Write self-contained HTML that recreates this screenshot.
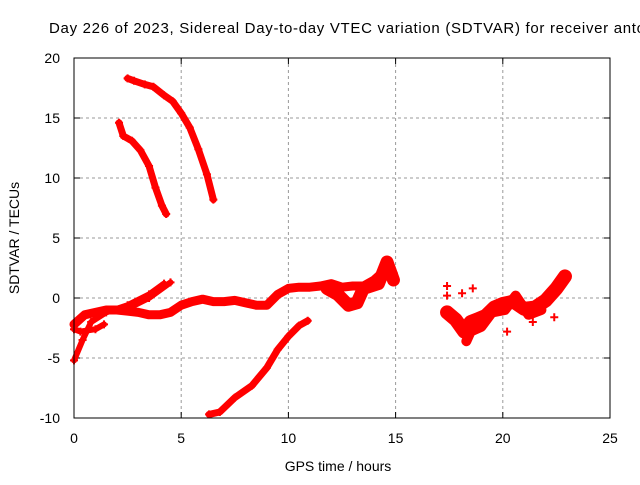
<!DOCTYPE html>
<html><head><meta charset="utf-8"><style>
body{margin:0;background:#fff}
text{font-family:"Liberation Sans",sans-serif;font-size:14px;fill:#000}
</style></head><body>
<svg id="c" width="640" height="480" xmlns="http://www.w3.org/2000/svg">
<text x="49" y="33" textLength="596" lengthAdjust="spacing" style="font-size:15px">Day 226 of 2023, Sidereal Day-to-day VTEC variation (SDTVAR) for receiver anto</text>
<text x="338" y="471" text-anchor="middle">GPS time / hours</text>
<text transform="translate(19,238) rotate(-90)" text-anchor="middle">SDTVAR / TECUs</text>
<g id="grid"></g><g id="marks"></g>
<rect x="74" y="58" width="536" height="360" fill="none" stroke="#000"/>
</svg>
<script>
const xTicks=[0,5,10,15,20,25];
const yTicks=[-10,-5,0,5,10,15,20];
const trackA=[[2.5,18.3],[2.8,18.1],[3.3,17.8],[3.7,17.6],[4.2,16.9],[4.6,16.4],[5.0,15.4],[5.4,14.2],[5.8,12.4],[6.2,10.3],[6.5,8.2]];
const trackB=[[2.1,14.6],[2.3,13.5],[2.7,13.1],[3.1,12.3],[3.5,11.0],[3.8,9.2],[4.1,7.7],[4.3,7.0]];
const trackC=[[6.3,-9.7],[6.8,-9.5],[7.5,-8.3],[8.3,-7.3],[9.0,-5.8],[9.5,-4.3],[10.0,-3.2],[10.5,-2.3],[10.9,-1.9]];
const trackMain=[[0,-2.2],[0.5,-1.4],[1,-1.2],[1.5,-1.0],[2,-1.0],[2.5,-1.1],[3,-1.2],[3.5,-1.4],[4,-1.4],[4.5,-1.2],[5,-0.6],[5.5,-0.3],[6,-0.1],[6.5,-0.3],[7,-0.3],[7.5,-0.2],[8,-0.4],[8.5,-0.6],[9,-0.6],[9.5,0.3],[10,0.8],[10.5,0.9],[11,0.9],[11.5,1.0],[12,1.2],[12.5,0.9],[13,1.0],[13.5,1.0],[14,1.5],[14.5,2.3],[14.9,2.0]];
const trackUp1=[[0,-5.2],[0.4,-3.5],[0.8,-2.0],[1.5,-1.2],[2.5,-0.6],[3.5,0.3],[4.2,1.2]];
const trackUp2=[[2.6,-0.8],[3.5,0.0],[4.5,1.3]];
const trackDip=[[0.0,-2.6],[0.3,-2.8],[1.0,-2.6],[1.4,-2.2]];
const trackNoise=[[11.8,0.8],[12.3,0.3],[12.8,-0.6],[13.2,-0.4],[13.5,0.8],[14.2,1.2],[14.6,3.0],[14.9,1.5]];
const trackRight=[[17.4,-1.2],[17.8,-1.8],[18.2,-2.8],[18.5,-2.0],[18.8,-1.8],[19.2,-1.5],[19.6,-0.8],[20,-0.5],[20.5,-0.3],[21,-0.9],[21.5,-0.8],[22,-0.2],[22.5,0.8],[22.9,1.8]];
const trackRight2=[[18.3,-3.6],[18.5,-2.8],[19.0,-2.4],[19.5,-1.2],[20.1,-1.0],[20.6,0.2],[21.2,-1.4],[21.8,-1.0]];
const scatter=[[17.4,1.0],[17.4,0.2],[18.1,0.4],[18.6,0.8],[17.6,-1.6],[21.4,-2.0],[20.2,-2.8],[22.4,-1.6]];
const X=h=>74+h*536/25, Y=v=>298-v*12;
const ns="http://www.w3.org/2000/svg";
const grid=document.getElementById('grid'), marks=document.getElementById('marks'), svg=document.getElementById('c');
function mk(tag,attrs,parent){const e=document.createElementNS(ns,tag);for(const k in attrs)e.setAttribute(k,attrs[k]);parent.appendChild(e);return e;}
xTicks.forEach(t=>{
 if(t>0&&t<25){const g=mk('line',{x1:X(t),x2:X(t),y1:58,y2:418,stroke:'#999','stroke-dasharray':'3,3'},grid);
 
 }
 mk('line',{x1:X(t),x2:X(t),y1:418,y2:412,stroke:'#000'},grid);
 mk('line',{x1:X(t),x2:X(t),y1:58,y2:64,stroke:'#000'},grid);
 const l=mk('text',{x:X(t),y:443,'text-anchor':'middle'},svg);l.textContent=t;
 
 
});
yTicks.forEach(t=>{
 if(t>-10&&t<20){const g=mk('line',{x1:74,x2:610,y1:Y(t),y2:Y(t),stroke:'#999','stroke-dasharray':'3,3'},grid);
 
 }
 mk('line',{x1:74,x2:80,y1:Y(t),y2:Y(t),stroke:'#000'},grid);
 mk('line',{x1:610,x2:604,y1:Y(t),y2:Y(t),stroke:'#000'},grid);
 const l=mk('text',{x:60,y:Y(t)+5,'text-anchor':'end'},svg);l.textContent=t;
 
 
});
function track(arr,w,name){
 const p=mk('polyline',{points:arr.map(d=>X(d[0])+','+Y(d[1])).join(' '),fill:'none',stroke:'#f00','stroke-width':w,'stroke-linejoin':'round','stroke-linecap':'round'},marks);
 
 
 arr.forEach(d=>plus(d));
}
function plus(d){
 const x=X(d[0]),y=Y(d[1]);
 const m=mk('path',{d:`M${x-4},${y}h8M${x},${y-4}v8`,stroke:'#f00','stroke-width':2},marks);
 
 
}
track(trackA,7,'track-a');
track(trackB,7,'track-b');
track(trackC,7,'track-c');
track(trackMain,9,'track-main');
track(trackUp1,6,'track-up-1');
track(trackUp2,6,'track-up-2');
track(trackDip,6,'track-dip');
track(trackNoise,13,'track-noise');
track(trackRight,14,'track-right');
track(trackRight2,10,'track-right-2');
scatter.forEach(plus);
</script>
</body></html>
